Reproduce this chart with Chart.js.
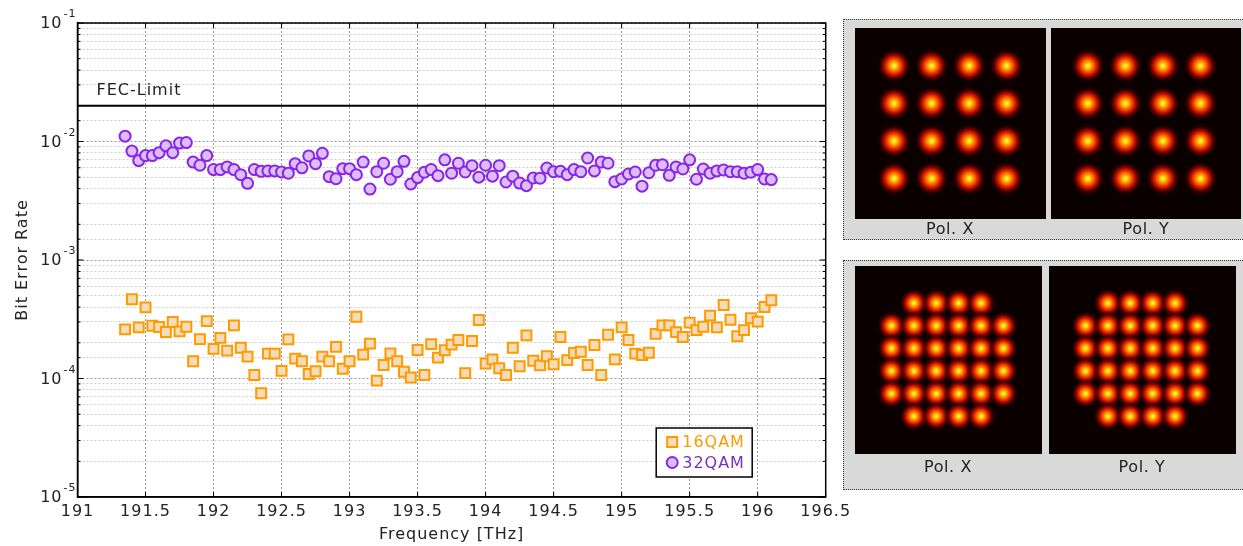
<!DOCTYPE html>
<html>
<head>
<meta charset="utf-8">
<script src="https://cdn.jsdelivr.net/npm/chart.js@4/dist/chart.umd.min.js"></script>
<style>
body { margin: 0; width: 1243px; height: 546px; overflow: hidden; background: #fff; font-family: "DejaVu Sans", sans-serif; }
canvas { position: absolute; }
.box { position: absolute; left: 843px; width: 420px; background: #d9d9d9; border: 1.5px dotted #333; box-sizing: border-box; }
.lbl { position: absolute; width: 120px; margin-left: -60px; text-align: center; font-size: 16px; color: #222; letter-spacing: 0.6px; }
</style>
</head>
<body>
<canvas id="main" width="858" height="546" style="left:0;top:0"></canvas>

<div class="box" style="top:19px;height:221px"></div>
<div class="box" style="top:260px;height:230px"></div>

<canvas id="c16x" width="191" height="191" style="left:855px;top:28px"></canvas>
<canvas id="c16y" width="190" height="191" style="left:1051px;top:28px"></canvas>
<canvas id="c32x" width="187" height="188" style="left:855px;top:266px"></canvas>
<canvas id="c32y" width="187" height="188" style="left:1049px;top:266px"></canvas>

<div class="lbl" style="left:950px;top:219px">Pol. X</div>
<div class="lbl" style="left:1146px;top:219px">Pol. Y</div>
<div class="lbl" style="left:948px;top:457px">Pol. X</div>
<div class="lbl" style="left:1142px;top:457px">Pol. Y</div>

<script>
// channel frequencies [THz]
var freqs = [
    191.35, 191.40, 191.45, 191.50, 191.55, 191.60, 191.65, 191.70, 191.75, 191.80,
    191.85, 191.90, 191.95, 192.00, 192.05, 192.10, 192.15, 192.20, 192.25, 192.30,
    192.35, 192.40, 192.45, 192.50, 192.55, 192.60, 192.65, 192.70, 192.75, 192.80,
    192.85, 192.90, 192.95, 193.00, 193.05, 193.10, 193.15, 193.20, 193.25, 193.30,
    193.35, 193.40, 193.45, 193.50, 193.55, 193.60, 193.65, 193.70, 193.75, 193.80,
    193.85, 193.90, 193.95, 194.00, 194.05, 194.10, 194.15, 194.20, 194.25, 194.30,
    194.35, 194.40, 194.45, 194.50, 194.55, 194.60, 194.65, 194.70, 194.75, 194.80,
    194.85, 194.90, 194.95, 195.00, 195.05, 195.10, 195.15, 195.20, 195.25, 195.30,
    195.35, 195.40, 195.45, 195.50, 195.55, 195.60, 195.65, 195.70, 195.75, 195.80,
    195.85, 195.90, 195.95, 196.00, 196.05, 196.10
];

var ber16 = [
    2.6e-4, 4.66e-4, 2.7e-4, 3.98e-4, 2.79e-4, 2.72e-4, 2.47e-4, 3.0e-4, 2.5e-4, 2.73e-4,
    1.4e-4, 2.15e-4, 3.05e-4, 1.78e-4, 2.2e-4, 1.72e-4, 2.81e-4, 1.82e-4, 1.53e-4, 1.07e-4,
    7.5e-5, 1.62e-4, 1.62e-4, 1.16e-4, 2.14e-4, 1.47e-4, 1.4e-4, 1.09e-4, 1.15e-4, 1.53e-4,
    1.4e-4, 1.85e-4, 1.21e-4, 1.4e-4, 3.32e-4, 1.59e-4, 1.97e-4, 9.6e-5, 1.3e-4, 1.63e-4,
    1.4e-4, 1.14e-4, 1.02e-4, 1.74e-4, 1.07e-4, 1.95e-4, 1.5e-4, 1.73e-4, 1.93e-4, 2.11e-4,
    1.11e-4, 2.07e-4, 3.12e-4, 1.34e-4, 1.45e-4, 1.22e-4, 1.07e-4, 1.82e-4, 1.27e-4, 2.31e-4,
    1.41e-4, 1.29e-4, 1.54e-4, 1.32e-4, 2.24e-4, 1.43e-4, 1.64e-4, 1.68e-4, 1.3e-4, 1.92e-4,
    1.07e-4, 2.34e-4, 1.45e-4, 2.7e-4, 2.11e-4, 1.62e-4, 1.58e-4, 1.65e-4, 2.38e-4, 2.81e-4,
    2.81e-4, 2.46e-4, 2.24e-4, 2.96e-4, 2.56e-4, 2.73e-4, 3.39e-4, 2.7e-4, 4.17e-4, 3.13e-4,
    2.27e-4, 2.56e-4, 3.22e-4, 3.02e-4, 4.01e-4, 4.57e-4
];

var ber32 = [
    1.11e-2, 8.3e-3, 6.9e-3, 7.6e-3, 7.6e-3, 8.05e-3, 9.2e-3, 8.05e-3, 9.7e-3, 9.8e-3,
    6.7e-3, 6.3e-3, 7.6e-3, 5.8e-3, 5.8e-3, 6.1e-3, 5.8e-3, 5.25e-3, 4.44e-3, 5.8e-3,
    5.6e-3, 5.65e-3, 5.65e-3, 5.53e-3, 5.4e-3, 6.5e-3, 6.0e-3, 7.55e-3, 6.5e-3, 7.95e-3,
    5.05e-3, 4.85e-3, 5.9e-3, 5.9e-3, 5.25e-3, 6.7e-3, 3.97e-3, 5.56e-3, 6.55e-3, 4.8e-3,
    5.56e-3, 6.8e-3, 4.38e-3, 4.96e-3, 5.5e-3, 5.8e-3, 5.15e-3, 7.0e-3, 5.4e-3, 6.55e-3,
    5.53e-3, 6.25e-3, 5.0e-3, 6.3e-3, 5.1e-3, 6.25e-3, 4.55e-3, 5.1e-3, 4.46e-3, 4.24e-3,
    4.92e-3, 4.9e-3, 5.97e-3, 5.56e-3, 5.6e-3, 5.25e-3, 5.8e-3, 5.56e-3, 7.26e-3, 5.65e-3,
    6.7e-3, 6.55e-3, 4.58e-3, 4.83e-3, 5.32e-3, 5.53e-3, 4.2e-3, 5.45e-3, 6.3e-3, 6.37e-3,
    5.18e-3, 6.1e-3, 5.86e-3, 7.0e-3, 4.8e-3, 5.86e-3, 5.4e-3, 5.65e-3, 5.75e-3, 5.56e-3,
    5.56e-3, 5.4e-3, 5.5e-3, 5.8e-3, 4.83e-3, 4.77e-3
];

var fecLimit = 2e-2;
var fecText = "FEC-Limit";
var xTicks = [191, 191.5, 192, 192.5, 193, 193.5, 194, 194.5, 195, 195.5, 196, 196.5];

// constellation grids (I / Q)
var qam16I = [-3, -1, 1, 3, -3, -1, 1, 3, -3, -1, 1, 3, -3, -1, 1, 3];
var qam16Q = [3, 3, 3, 3, 1, 1, 1, 1, -1, -1, -1, -1, -3, -3, -3, -3];
var qam32I = [-3, -1, 1, 3,
              -5, -3, -1, 1, 3, 5,
              -5, -3, -1, 1, 3, 5,
              -5, -3, -1, 1, 3, 5,
              -5, -3, -1, 1, 3, 5,
              -3, -1, 1, 3];
var qam32Q = [5, 5, 5, 5,
              3, 3, 3, 3, 3, 3,
              1, 1, 1, 1, 1, 1,
              -1, -1, -1, -1, -1, -1,
              -3, -3, -3, -3, -3, -3,
              -5, -5, -5, -5];

var FONT = "'DejaVu Sans'";

function isDecade(v) {
    var l = Math.log10(v);
    return Math.abs(l - Math.round(l)) < 1e-6;
}

// wide tracking like the original export
var spacing = {
    id: "spacing",
    beforeUpdate: function(chart) { chart.ctx.letterSpacing = "1px"; },
    beforeDraw: function(chart) { chart.ctx.letterSpacing = "1px"; }
};

// frame, inward ticks, y labels with exponents, FEC label
var framePlugin = {
    id: "frame",
    afterDraw: function(chart) {
        var ctx = chart.ctx, a = chart.chartArea;
        var xs = chart.scales.x, ys = chart.scales.y;
        ctx.save();
        ctx.strokeStyle = "#000";
        ctx.lineWidth = 1;
        ctx.beginPath();
        xs.ticks.forEach(function(t) {
            var px = xs.getPixelForValue(t.value);
            ctx.moveTo(px, a.bottom); ctx.lineTo(px, a.bottom - 5);
            ctx.moveTo(px, a.top); ctx.lineTo(px, a.top + 5);
        });
        ys.ticks.forEach(function(t) {
            var py = ys.getPixelForValue(t.value);
            var len = isDecade(t.value) ? 6 : 3;
            ctx.moveTo(a.left, py); ctx.lineTo(a.left + len, py);
            ctx.moveTo(a.right, py); ctx.lineTo(a.right - len, py);
        });
        ctx.stroke();
        ctx.lineWidth = 1.5;
        ctx.strokeRect(a.left, a.top, a.right - a.left, a.bottom - a.top);

        ctx.fillStyle = "#222";
        ctx.textAlign = "right";
        ys.ticks.forEach(function(t) {
            if (!isDecade(t.value)) return;
            var py = ys.getPixelForValue(t.value);
            var ex = String(Math.round(Math.log10(t.value)));
            ctx.font = "11px " + FONT;
            ctx.textBaseline = "alphabetic";
            ctx.fillText(ex, a.left - 1, py - 6);
            var w = ctx.measureText(ex).width;
            ctx.font = "16px " + FONT;
            ctx.textBaseline = "middle";
            ctx.fillText("10", a.left - 2 - w, py + 1);
        });

        ctx.textAlign = "left";
        ctx.textBaseline = "alphabetic";
        ctx.font = "16px " + FONT;
        ctx.fillText(fecText, a.left + 19, ys.getPixelForValue(fecLimit) - 11);
        ctx.restore();
    }
};

// legend box inside the plot
var boxLegend = {
    id: "boxLegend",
    afterDraw: function(chart) {
        var ctx = chart.ctx, a = chart.chartArea;
        var w = 96, h = 49;
        var x0 = a.right - 169.5, y0 = a.bottom - 69;
        ctx.save();
        ctx.fillStyle = "#fff";
        ctx.fillRect(x0, y0, w, h);
        ctx.strokeStyle = "#000";
        ctx.lineWidth = 1.5;
        ctx.strokeRect(x0, y0, w, h);
        ctx.font = "16px " + FONT;
        ctx.textBaseline = "middle";
        var sets = chart.data.datasets.filter(function(d) { return d.legendText; });
        sets.forEach(function(d, i) {
            var cy = y0 + 14 + i * 20.5;
            ctx.fillStyle = d.backgroundColor;
            ctx.strokeStyle = d.borderColor;
            ctx.lineWidth = 2;
            ctx.beginPath();
            if (d.pointStyle === "rect") ctx.rect(x0 + 11, cy - 5, 10, 10);
            else ctx.arc(x0 + 16, cy, 5.5, 0, Math.PI * 2);
            ctx.fill();
            ctx.stroke();
            ctx.fillStyle = d.legendText;
            ctx.fillText(d.label, x0 + 26, cy + 1);
        });
        ctx.restore();
    }
};

new Chart(document.getElementById("main"), {
    type: "scatter",
    data: {
        datasets: [{
            label: "FEC",
            type: "line",
            data: [{x: xTicks[0], y: fecLimit}, {x: xTicks[xTicks.length - 1], y: fecLimit}],
            borderColor: "#000",
            borderWidth: 2,
            pointRadius: 0
        }, {
            label: "16QAM",
            data: freqs.map(function(f, i) { return {x: f, y: ber16[i]}; }),
            pointStyle: "rect",
            pointRadius: 7,
            borderWidth: 2,
            borderColor: "#ff9a00",
            backgroundColor: "#f3dcb8",
            legendText: "#ff9a00"
        }, {
            label: "32QAM",
            data: freqs.map(function(f, i) { return {x: f, y: ber32[i]}; }),
            pointStyle: "circle",
            pointRadius: 5.5,
            borderWidth: 2,
            borderColor: "#8a24e6",
            backgroundColor: "#dbbdfc",
            legendText: "#7a30b8"
        }]
    },
    options: {
        responsive: false,
        animation: false,
        events: [],
        layout: {padding: {left: 0, right: 32.3, top: 23, bottom: 0}},
        plugins: {legend: {display: false}, tooltip: {enabled: false}},
        scales: {
            x: {
                type: "linear",
                min: xTicks[0],
                max: xTicks[xTicks.length - 1],
                afterBuildTicks: function(s) { s.ticks = xTicks.map(function(v) { return {value: v}; }); },
                afterFit: function(s) { s.height = 49; },
                grid: {color: "#9a9a9a", drawTicks: false},
                border: {color: "#000", width: 1.5, dash: [2, 2]},
                ticks: {
                    color: "#222",
                    font: {family: "DejaVu Sans", size: 16},
                    padding: 5,
                    autoSkip: false,
                    maxRotation: 0,
                    callback: function(v) { return String(v); }
                },
                title: {display: true, text: "Frequency [THz]", color: "#222",
                        font: {family: "DejaVu Sans", size: 16}, padding: {top: 0, bottom: 2}}
            },
            y: {
                type: "logarithmic",
                min: 1e-5,
                max: 1e-1,
                afterFit: function(s) { s.width = 77.5; },
                grid: {
                    drawTicks: false,
                    color: function(c) { return c.tick && isDecade(c.tick.value) ? "#9a9a9a" : "#cfcfcf"; }
                },
                border: {color: "#000", width: 1.5, dash: [2, 2]},
                ticks: {
                    autoSkip: false,
                    callback: function() { return ""; }
                },
                title: {display: true, text: "Bit Error Rate", color: "#222",
                        font: {family: "DejaVu Sans", size: 16}, padding: {top: 13, bottom: 0}}
            }
        }
    },
    plugins: [spacing, framePlugin, boxLegend]
});

// constellation heat spots
function makeSpot(size) {
    var c = document.createElement("canvas");
    c.width = size; c.height = size;
    var g = c.getContext("2d");
    var r = size / 2;
    var grad = g.createRadialGradient(r, r, 0, r, r, r);
    grad.addColorStop(0, "#ffff70");
    grad.addColorStop(0.1, "#ffe41c");
    grad.addColorStop(0.26, "#ff9200");
    grad.addColorStop(0.45, "#ee3200");
    grad.addColorStop(0.65, "rgba(175,8,0,0.8)");
    grad.addColorStop(0.84, "rgba(80,0,0,0.45)");
    grad.addColorStop(1, "rgba(20,0,0,0)");
    g.fillStyle = grad;
    g.fillRect(0, 0, size, size);
    return c;
}

var darkBg = {
    id: "darkBg",
    beforeDraw: function(chart) {
        chart.ctx.fillStyle = "#0b0000";
        chart.ctx.fillRect(0, 0, chart.width, chart.height);
    }
};

function constellation(id, I, Q, range, spot) {
    new Chart(document.getElementById(id), {
        type: "scatter",
        data: {
            datasets: [{
                data: I.map(function(v, i) { return {x: v, y: Q[i]}; }),
                pointStyle: spot,
                pointRadius: spot.width / 2
            }]
        },
        options: {
            responsive: false,
            animation: false,
            events: [],
            layout: {padding: 0},
            plugins: {legend: {display: false}, tooltip: {enabled: false}},
            scales: {
                x: {display: false, min: range[0], max: range[1]},
                y: {display: false, min: range[2], max: range[3]}
            }
        },
        plugins: [darkBg]
    });
}

var spot16 = makeSpot(34);
var spot32 = makeSpot(29);
constellation("c16x", qam16I, qam16Q, [-4.12, 4.14, -4.2, 4.05], spot16);
constellation("c16y", qam16I, qam16Q, [-4.0, 4.2, -4.2, 4.05], spot16);
constellation("c32x", qam32I, qam32Q, [-6.87, 7.06, -6.97, 6.9], spot32);
constellation("c32y", qam32I, qam32Q, [-6.87, 7.06, -6.97, 6.9], spot32);
</script>
</body>
</html>
